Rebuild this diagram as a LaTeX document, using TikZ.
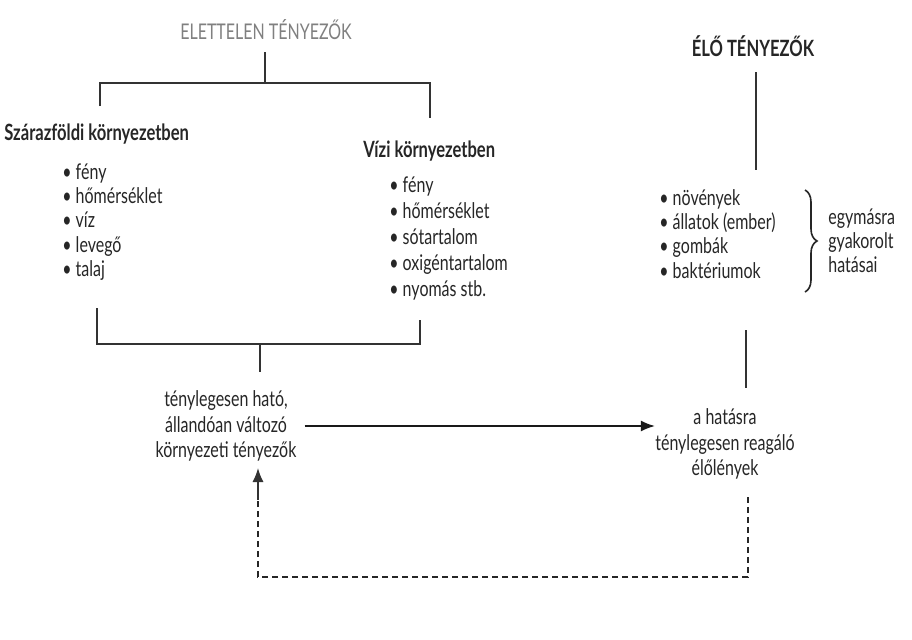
\documentclass[tikz,border=0pt]{standalone}
\usepackage{fontspec}
\setmainfont{Lato}[FakeStretch=0.74]
\usetikzlibrary{arrows.meta,decorations.pathreplacing}
\tikzset{
  txt/.style={inner sep=0pt, text=black!85, font=\fontsize{10.8}{12.1}\selectfont},
  lst/.style={txt, align=left, anchor=west},
  head/.style={inner sep=0pt, text=black!85, font=\fontsize{11.2}{12}\selectfont\bfseries},
  ctr/.style={txt, align=center, font=\fontsize{10.8}{12.8}\selectfont},
  ln/.style={line width=0.7pt, black!80},
  dsh/.style={line width=0.7pt, black!85, dash pattern=on 3pt off 2pt},
  arr/.style={-{Latex[length=7pt,width=5.5pt]}}
}
\begin{document}
\begin{tikzpicture}[x=0.5pt,y=-0.5pt]
\fill[white] (0,0) rectangle (912,639);
\useasboundingbox (0,0) rectangle (912,639);
% titles
\node[inner sep=0pt, text=black!50, font=\fontsize{10.8}{12}\selectfont] (abio) at (266,30) {ELETTELEN TÉNYEZŐK};
\node[head] (bio) at (753,46) {ÉLŐ TÉNYEZŐK};
% headings
\node[head, anchor=west] (land) at (4,134) {Szárazföldi környezetben};
\node[head, anchor=west] (water) at (363,151) {Vízi környezetben};
% lists
\node[lst] (llist) at (62,222) {• fény\\ • hőmérséklet\\ • víz\\ • levegő\\ • talaj};
\node[lst, font=\fontsize{10.8}{13}\selectfont] (wlist) at (389,238) {• fény\\ • hőmérséklet\\ • sótartalom\\ • oxigéntartalom\\ • nyomás stb.};
\node[lst] (blist) at (659,234) {• növények\\ • állatok (ember)\\ • gombák\\ • baktériumok};
\node[lst] (eff) at (828,241) {egymásra\\ gyakorolt\\ hatásai};
% centre nodes
\node[ctr] (act) at (226,426) {ténylegesen ható,\\ állandóan változó\\ környezeti tényezők};
\node[ctr] (resp) at (725,444) {a hatásra\\ ténylegesen reagáló\\ élőlények};
% upper bracket
\coordinate (t1) at (265,52);
\coordinate (t2) at (265,83);
\coordinate (tl) at (100,83);
\coordinate (tr) at (430,83);
\draw[ln] (t1) -- (t2);
\draw[ln] (100,106) -- (tl) -- (tr) -- (430,118);
% lower bracket
\coordinate (bl) at (97,344);
\coordinate (br) at (420,344);
\coordinate (bm) at (260,344);
\draw[ln] (97,308) -- (bl) -- (br) -- (420,320);
\draw[ln] (bm) -- (260,372);
% bio line
\draw[ln] (756,72) -- (756,170);
\draw[ln] (746,330) -- (746,388);
% brace
\draw[line width=0.8pt, black!85, decorate, decoration={brace, amplitude=6pt}] (805,190) -- (805,292);
% arrows
\draw[ln, line width=0.9pt, black!90, arr] (act.east) ++(8,0) coordinate (a0) -- (resp.west |- a0) coordinate (a1);
\coordinate (d0) at (748,497);
\coordinate (d1) at (748,577);
\coordinate (d2) at (258,577);
\draw[dsh] (d0) -- (d1) -- (d2) -- (258,470);
\draw[ln, arr] (258,500) -- (258,468);
\end{tikzpicture}
\end{document}
